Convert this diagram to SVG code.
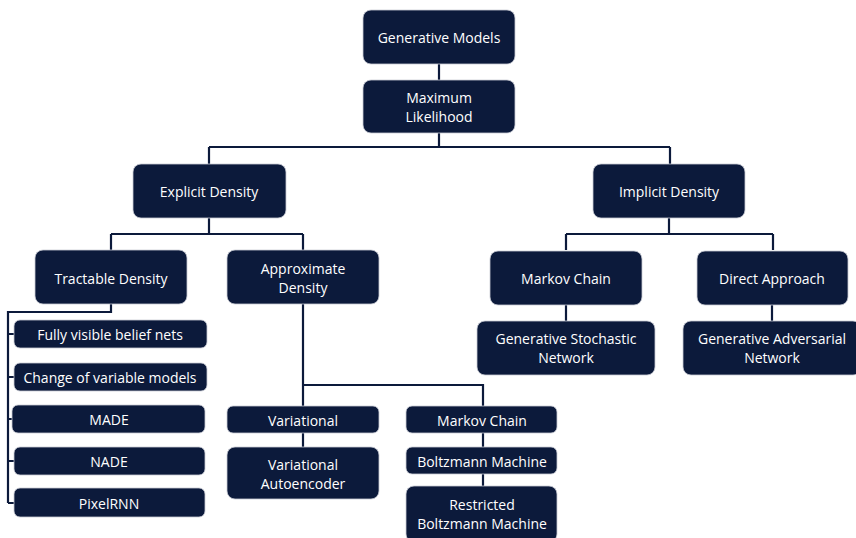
<svg xmlns="http://www.w3.org/2000/svg" width="856" height="538" viewBox="0 0 856 538">
<style>
.n{fill:#0c1a3b;stroke:#c9ccd4;stroke-width:0.8}
.t{fill:#ffffff;font-family:"Open Sans","Liberation Sans",sans-serif;font-size:14px;text-anchor:middle}
.c{fill:none;stroke:#0c1a3b;stroke-width:2.2}
</style>
<rect width="856" height="538" fill="#ffffff"/>
<g id="connectors">
<path class="c" d="M439 64V80M439 133V147M209 147H670M209 147V164M670 147V164"/>
<path class="c" d="M209 218V234M111 234H303M111 234V250M303 234V250"/>
<path class="c" d="M669 218V234M566 234H773M566 234V250M773 234V250"/>
<path class="c" d="M566 305V321M772 305V321"/>
<path class="c" d="M111 304V312H8V503M8 334H14M8 377H14M8 419H12M8 461H14M8 503H14"/>
<path class="c" d="M303 304V385H483V406M303 385V406M303 433V447M483 433V447M483 474V486"/>
</g>
<g id="generative-models"><rect class="n" x="363" y="10" width="152" height="54" rx="8"/><text class="t" x="439" y="43">Generative Models</text></g>
<g id="maximum-likelihood"><rect class="n" x="363" y="80" width="152" height="53" rx="8"/><text class="t" x="439" y="103">Maximum</text><text class="t" x="439" y="122">Likelihood</text></g>
<g id="explicit-density"><rect class="n" x="133" y="164" width="153" height="54" rx="8"/><text class="t" x="209" y="197">Explicit Density</text></g>
<g id="implicit-density"><rect class="n" x="593" y="164" width="152" height="54" rx="8"/><text class="t" x="669" y="197">Implicit Density</text></g>
<g id="tractable-density"><rect class="n" x="35" y="250" width="152" height="54" rx="8"/><text class="t" x="111" y="284">Tractable Density</text></g>
<g id="approximate-density"><rect class="n" x="227" y="250" width="152" height="54" rx="8"/><text class="t" x="303" y="274">Approximate</text><text class="t" x="303" y="293">Density</text></g>
<g id="markov-chain-implicit"><rect class="n" x="490" y="251" width="152" height="54" rx="8"/><text class="t" x="566" y="284">Markov Chain</text></g>
<g id="direct-approach"><rect class="n" x="697" y="251" width="151" height="54" rx="8"/><text class="t" x="772" y="284">Direct Approach</text></g>
<g id="gsn"><rect class="n" x="477" y="321" width="178" height="54" rx="8"/><text class="t" x="566" y="344">Generative Stochastic</text><text class="t" x="566" y="363">Network</text></g>
<g id="gan"><rect class="n" x="683" y="321" width="178" height="54" rx="8"/><text class="t" x="772" y="344">Generative Adversarial</text><text class="t" x="772" y="363">Network</text></g>
<g id="fvbn"><rect class="n" x="14" y="320" width="193" height="28" rx="6"/><text class="t" x="110" y="340">Fully visible belief nets</text></g>
<g id="change-of-variable"><rect class="n" x="14" y="363" width="193" height="28" rx="6"/><text class="t" x="110" y="383">Change of variable models</text></g>
<g id="made"><rect class="n" x="12" y="405" width="193" height="28" rx="6"/><text class="t" x="109" y="425">MADE</text></g>
<g id="nade"><rect class="n" x="14" y="447" width="191" height="28" rx="6"/><text class="t" x="109" y="467">NADE</text></g>
<g id="pixelrnn"><rect class="n" x="14" y="488" width="191" height="29" rx="6"/><text class="t" x="109" y="509">PixelRNN</text></g>
<g id="variational"><rect class="n" x="227" y="406" width="152" height="27" rx="6"/><text class="t" x="303" y="426">Variational</text></g>
<g id="vae"><rect class="n" x="227" y="447" width="152" height="52" rx="8"/><text class="t" x="303" y="470">Variational</text><text class="t" x="303" y="489">Autoencoder</text></g>
<g id="markov-chain-approx"><rect class="n" x="406" y="406" width="151" height="27" rx="6"/><text class="t" x="482" y="426">Markov Chain</text></g>
<g id="boltzmann"><rect class="n" x="406" y="447" width="151" height="27" rx="6"/><text class="t" x="482" y="467">Boltzmann Machine</text></g>
<g id="rbm"><rect class="n" x="406" y="486" width="151" height="56" rx="8"/><text class="t" x="482" y="510">Restricted</text><text class="t" x="482" y="529">Boltzmann Machine</text></g>
</svg>
